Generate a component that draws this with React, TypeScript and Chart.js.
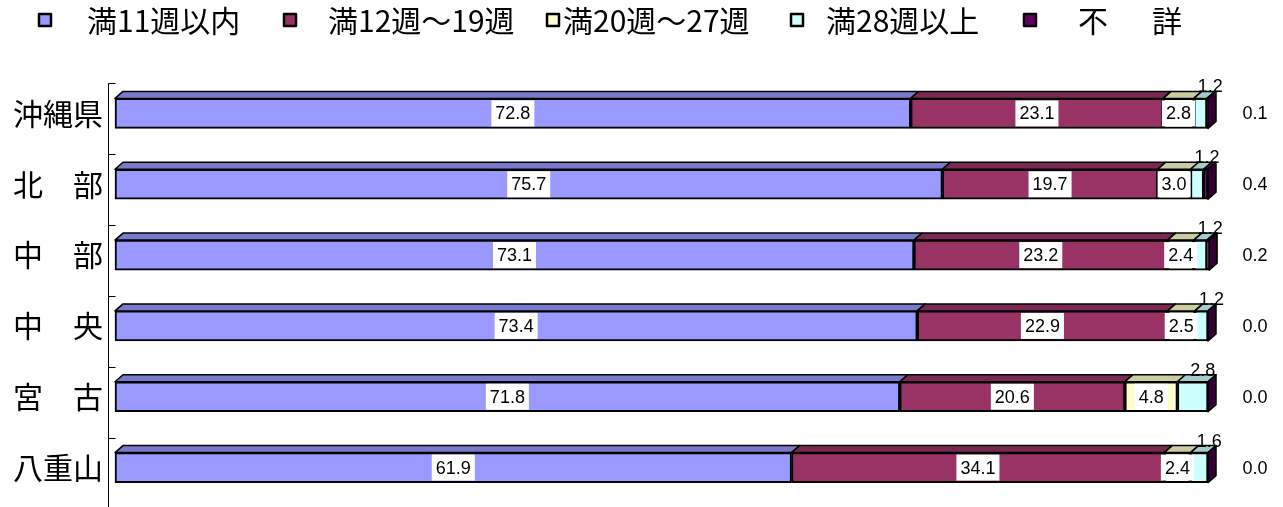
import React, { useEffect, useRef } from "react";
import { Chart, registerables } from "chart.js";

Chart.register(...registerables);

// ---- data ----
const categories = ["沖縄県", "北　部", "中　部", "中　央", "宮　古", "八重山"];
const seriesNames = ["満11週以内", "満12週～19週", "満20週～27週", "満28週以上", "不　詳"];
const under11 = [72.8, 75.7, 73.1, 73.4, 71.8, 61.9];
const w12to19 = [23.1, 19.7, 23.2, 22.9, 20.6, 34.1];
const w20to27 = [2.8, 3.0, 2.4, 2.5, 4.8, 2.4];
const over28 = [1.2, 1.2, 1.2, 1.2, 2.8, 1.6];
const unknown = [0.1, 0.4, 0.2, 0.0, 0.0, 0.0];

// ---- styles ----
const frontColors = ["#9999FF", "#993366", "#FFFFCC", "#CCFFFF", "#660066"];
const topColors = ["#7A7ACC", "#7A2952", "#CCCCA3", "#A3CCCC", "#520052"];
const sideColor = "#330033";
const DX = 8;
const DY = 7;
const legendBoxX = [39, 284, 547, 791, 1024];
const legendTextX = [87, 328, 563, 826, 1078];
const LEGEND_FONT = '30px "Liberation Sans Narrow", "Noto Sans CJK JP", sans-serif';
const LABEL_FONT = '18px "Liberation Sans", Arial, sans-serif';

const threeDPlugin = {
  id: "threeD",
  afterDatasetsDraw(chart: any) {
    const ctx = chart.ctx;
    const xScale = chart.scales.x;
    const yScale = chart.scales.y;
    ctx.save();
    // axis line and ticks
    ctx.strokeStyle = "#000";
    ctx.lineWidth = 1;
    const axisX = Math.round(xScale.left) + 0.5;
    const firstTick = yScale.getPixelForValue(0) - 30;
    ctx.beginPath();
    ctx.moveTo(axisX, firstTick);
    ctx.lineTo(axisX, chart.height);
    ctx.stroke();
    for (let i = 0; i < categories.length; i++) {
      const ty = Math.round(yScale.getPixelForValue(i) - 30) + 0.5;
      ctx.beginPath();
      ctx.moveTo(axisX, ty);
      ctx.lineTo(axisX + 7, ty);
      ctx.stroke();
    }
    // top faces
    ctx.lineJoin = "round";
    chart.data.datasets.forEach((ds: any, di: number) => {
      const meta = chart.getDatasetMeta(di);
      meta.data.forEach((el: any) => {
        const p = el.getProps(["x", "base", "y", "height"], true);
        const x1 = Math.min(p.x, p.base);
        const x2 = Math.max(p.x, p.base);
        if (x2 - x1 < 0.5) return;
        const t = p.y - p.height / 2;
        ctx.beginPath();
        ctx.moveTo(x1, t);
        ctx.lineTo(x2, t);
        ctx.lineTo(x2 + DX, t - DY);
        ctx.lineTo(x1 + DX, t - DY);
        ctx.closePath();
        ctx.fillStyle = topColors[di];
        ctx.fill();
        ctx.lineWidth = 1.5;
        ctx.strokeStyle = "#000";
        ctx.stroke();
      });
    });
    // side face of the last segment
    const lastMeta = chart.getDatasetMeta(chart.data.datasets.length - 1);
    lastMeta.data.forEach((el: any) => {
      const p = el.getProps(["x", "base", "y", "height"], true);
      const x2 = Math.max(p.x, p.base);
      const t = p.y - p.height / 2;
      const b = p.y + p.height / 2;
      ctx.beginPath();
      ctx.moveTo(x2, t);
      ctx.lineTo(x2 + DX, t - DY);
      ctx.lineTo(x2 + DX, b - DY);
      ctx.lineTo(x2, b);
      ctx.closePath();
      ctx.fillStyle = sideColor;
      ctx.fill();
      ctx.lineWidth = 1.5;
      ctx.strokeStyle = "#000";
      ctx.stroke();
    });

    // data labels
    ctx.font = LABEL_FONT;
    ctx.textBaseline = "middle";
    ctx.textAlign = "center";
    chart.data.datasets.forEach((ds: any, di: number) => {
      const meta = chart.getDatasetMeta(di);
      meta.data.forEach((el: any, i: number) => {
        const p = el.getProps(["x", "base", "y", "height"], true);
        const v = ds.data[i] as number;
        const txt = v.toFixed(1);
        const cx = (p.x + p.base) / 2;
        if (di <= 2) {
          const w = ctx.measureText(txt).width + 8;
          ctx.fillStyle = "#fff";
          ctx.fillRect(cx - w / 2, p.y - p.height / 2 + 2, w, p.height - 4);
          ctx.fillStyle = "#000";
          ctx.fillText(txt, cx, p.y + 1);
        } else if (di === 3) {
          ctx.fillStyle = "#000";
          ctx.fillText(txt, cx + 10, p.y - 26);
        } else {
          ctx.fillStyle = "#000";
          ctx.fillText(txt, xScale.right + 47, p.y + 1);
        }
      });
    });

    // legend
    ctx.textAlign = "left";
    ctx.font = LEGEND_FONT;
    seriesNames.forEach((name, i) => {
      ctx.fillStyle = frontColors[i];
      ctx.fillRect(legendBoxX[i], 14, 12, 12);
      ctx.lineWidth = 2.5;
      ctx.strokeStyle = "#000";
      ctx.strokeRect(legendBoxX[i], 14, 12, 12);
      ctx.fillStyle = "#000";
      (ctx as any).letterSpacing = i === 4 ? "7px" : "0px";
      ctx.fillText(name, legendTextX[i], 21);
    });
    (ctx as any).letterSpacing = "0px";
    ctx.restore();
  },
};

export default function App() {
  const ref = useRef<HTMLCanvasElement | null>(null);
  useEffect(() => {
    if (!ref.current) return;
    const seriesValues = [under11, w12to19, w20to27, over28, unknown];
    const chart = new Chart(ref.current, {
      type: "bar",
      data: {
        labels: categories,
        datasets: seriesValues.map((vals, i) => ({
          label: seriesNames[i],
          data: vals,
          backgroundColor: frontColors[i],
          borderColor: "#000",
          borderWidth: 2,
          borderSkipped: false,
          barThickness: 30,
          clip: false as any,
        })),
      },
      options: {
        indexAxis: "y",
        animation: false,
        responsive: false,
        layout: { padding: { top: 78, bottom: 4, right: 75, left: 0 } },
        plugins: {
          legend: { display: false },
          tooltip: { enabled: false },
        },
        scales: {
          x: {
            stacked: true,
            min: -0.64,
            max: 100,
            display: false,
          },
          y: {
            stacked: true,
            grid: { display: false, drawTicks: false },
            border: { display: false },
            ticks: {
              padding: 5,
              color: "#000",
              font: { size: 30, family: '"Noto Sans CJK JP", sans-serif' },
            },
            afterFit: (scale: any) => {
              scale.width = 108;
              scale.paddingTop = 0;
              scale.paddingBottom = 0;
            },
          },
        },
      },
      plugins: [threeDPlugin],
    });
    return () => chart.destroy();
  }, []);
  return (
    <div style={{ position: "absolute", left: 0, top: 0, width: 1283, height: 507, background: "#fff" }}>
      <canvas ref={ref} width={1283} height={507} style={{ width: 1283, height: 507, display: "block" }} />
    </div>
  );
}
